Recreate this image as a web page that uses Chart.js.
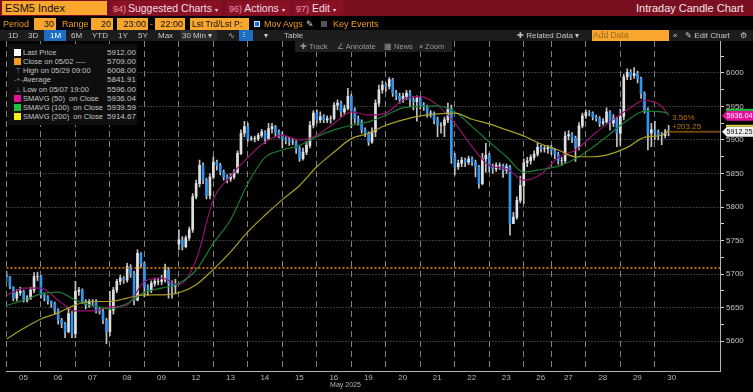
<!DOCTYPE html>
<html>
<head>
<meta charset="utf-8">
<title>ESM5 Index</title>
<script src="https://cdn.jsdelivr.net/npm/chart.js@4"></script>
<style>
  html, body { margin: 0; padding: 0; background: #000; overflow: hidden; }
  body { width: 753px; height: 392px; position: relative; font-family: "Liberation Sans", Arial, sans-serif; }
  canvas { position: absolute; left: 0; top: 0; }
  .a { position: absolute; white-space: pre; }
  .or { color: #f39c1f; font-size: 9px; line-height: 12px; top: 18px; }
  .box { background: #f9a52e; color: #111; font-size: 9px; line-height: 12px; top: 18px; height: 12px; text-align: right; padding-right: 2px; box-sizing: border-box; }
  .red { color: #f2dfe2; font-size: 10.5px; line-height: 14px; top: 1px; height: 14px; background: #8a1026; box-sizing: border-box; padding-left: 2px; }
  .red i { font-style: normal; color: #e79aa8; font-size: 9px; }
  .tb { color: #c8c8c8; font-size: 8px; line-height: 11px; top: 30px; }
  .tool { color: #9a9a9a; font-size: 7.5px; line-height: 11px; top: 41px; }
  .leg { color: #c4c4c4; font-size: 7.5px; line-height: 9px; }
</style>
</head>
<body>
<canvas id="myChart" width="753" height="392"></canvas>

<div class="a" style="left:0;top:0;width:753px;height:16px;background:#7a0f20"></div>
<div class="a" style="left:2px;top:1px;width:105px;height:14px;background:#f9a52e;color:#111;font-size:11px;line-height:14px;padding-left:3px;box-sizing:border-box">ESM5 Index</div>
<div class="a red" style="left:112px;width:110px;padding-left:1px"><i style="margin-right:-1px">94)</i> Suggested Charts <span style="font-size:6px">▾</span></div>
<div class="a red" style="left:227px;width:63px"><i>96)</i> Actions <span style="font-size:6px">▾</span></div>
<div class="a red" style="left:294px;width:49px"><i>97)</i> Edit <span style="font-size:6px">▾</span></div>
<div class="a" style="left:636px;top:1px;color:#f2e6e8;font-size:11px;line-height:14px">Intraday Candle Chart</div>

<div class="a or" style="left:3px">Period</div>
<div class="a box" style="left:34px;width:22px">30</div>
<div class="a or" style="left:62px">Range</div>
<div class="a box" style="left:91px;width:22px">20</div>
<div class="a box" style="left:117px;width:31px">23:00</div>
<div class="a or" style="left:150px">-</div>
<div class="a box" style="left:155px;width:30px">22:00</div>
<div class="a box" style="left:190px;width:59px;font-size:8.5px;text-align:left;padding-left:2px">Lst Trd/Lst P:</div>
<div class="a" style="left:254px;top:21px;width:6px;height:6px;background:#1c6fc4;border:1px solid #cfe0f5;box-sizing:border-box"></div>
<div class="a or" style="left:264px">Mov Avgs</div>
<div class="a" style="left:306px;top:18px;color:#ddd;font-size:9px;line-height:12px">✎</div>
<div class="a" style="left:321px;top:21px;width:6px;height:6px;background:#555"></div>
<div class="a or" style="left:333px">Key Events</div>

<div class="a" style="left:0;top:30px;width:753px;height:11px;background:#1c1c1c"></div>
<div class="a" style="left:44px;top:30px;width:22px;height:11px;background:#1c6fc4"></div>
<div class="a" style="left:180px;top:30px;width:37px;height:11px;background:#2c2c2c"></div>
<div class="a" style="left:239px;top:30px;width:14px;height:11px;background:#1c6fc4"></div>
<div class="a tb" style="left:8px">1D</div>
<div class="a tb" style="left:28px">3D</div>
<div class="a tb" style="left:50px;color:#fff">1M</div>
<div class="a tb" style="left:71px">6M</div>
<div class="a tb" style="left:92px">YTD</div>
<div class="a tb" style="left:118px">1Y</div>
<div class="a tb" style="left:138px">5Y</div>
<div class="a tb" style="left:158px">Max</div>
<div class="a tb" style="left:182px">30 Min ▾</div>
<div class="a tb" style="left:228px">∿</div>
<div class="a tb" style="left:243px;color:#fff">⫶</div>
<div class="a tb" style="left:264px">▾</div>
<div class="a tb" style="left:284px">Table</div>
<div class="a tb" style="left:517px">✚ Related Data ▾</div>
<div class="a" style="left:592px;top:30px;width:76px;height:11px;background:#f9a52e;color:#9a6a20;font-size:8.5px;line-height:11px;padding-left:1px">Add Data</div>
<div class="a tb" style="left:673px">«</div>
<div class="a tb" style="left:685px">✎ Edit Chart</div>
<div class="a tb" style="left:740px">⚙</div>

<div class="a" style="left:295px;top:41px;width:157px;height:11px;background:#1f1f1f"></div>
<div class="a tool" style="left:300px">✚ Track</div>
<div class="a tool" style="left:337px">∠ Annotate</div>
<div class="a tool" style="left:384px">▦ News</div>
<div class="a tool" style="left:419px">⌕ Zoom</div>

<div class="a" id="legend" style="left:8px;top:44px;width:129px;height:81px;background:#0e0e0e"></div>

<script>
const dayLabels = ['05', '06', '07', '08', '09', '12', '13', '14', '15', '16', '19', '20', '21', '22', '23', '26', '27', '28', '29', '30'];
// bar number where each session starts, 26th is the short holiday session
const dayStarts = [0, 10, 20, 30, 40, 50, 60, 70, 80, 90, 100, 110, 120, 130, 140, 150, 158, 168, 178, 188];

const closeValues = [
  5696, 5681, 5664, 5672, 5674, 5661, 5664, 5676, 5696, 5696,
  5669, 5666, 5659, 5656, 5646, 5631, 5626, 5614, 5641, 5611,
  5674, 5676, 5659, 5654, 5659, 5659, 5646, 5644, 5631, 5614,
  5646, 5676, 5689, 5694, 5691, 5711, 5701, 5661, 5731, 5716,
  5681, 5676, 5686, 5689, 5689, 5691, 5706, 5686, 5681, 5681,
  5751, 5741, 5754, 5766, 5815, 5835, 5862, 5840, 5817, 5845,
  5867, 5862, 5852, 5845, 5842, 5845, 5852, 5880, 5910, 5920,
  5902, 5902, 5902, 5907, 5912, 5902, 5917, 5920, 5912, 5907,
  5902, 5900, 5897, 5897, 5887, 5872, 5882, 5892, 5922, 5940,
  5930, 5935, 5930, 5932, 5932, 5952, 5955, 5942, 5947, 5965,
  5945, 5932, 5927, 5915, 5910, 5897, 5912, 5955, 5975, 5982,
  5980, 5990, 5970, 5965, 5960, 5965, 5970, 5960, 5957, 5962,
  5952, 5950, 5940, 5940, 5930, 5922, 5922, 5930, 5947, 5875,
  5860, 5865, 5870, 5867, 5872, 5867, 5860, 5835, 5872, 5877,
  5860, 5857, 5862, 5862, 5855, 5860, 5775, 5785, 5810, 5832,
  5866, 5869, 5874, 5879, 5889, 5887, 5887, 5889,
  5884, 5879, 5869, 5869, 5906, 5908, 5903, 5889, 5921, 5936,
  5941, 5940, 5934, 5932, 5925, 5927, 5942, 5925, 5932, 5910,
  5935, 5994, 6001, 5996, 5999, 5992, 5969, 5945, 5910, 5915,
  5912, 5907, 5907, 5912, 5912.25
];
const highValues = [
  5704, 5696, 5681, 5677, 5680, 5676, 5668, 5680, 5702, 5703,
  5698, 5672, 5668, 5660, 5658, 5648, 5634, 5628, 5648, 5644,
  5689, 5680, 5678, 5662, 5662, 5662, 5662, 5650, 5648, 5634,
  5674, 5680, 5692, 5698, 5696, 5716, 5714, 5704, 5736, 5732,
  5718, 5684, 5690, 5694, 5694, 5698, 5715, 5710, 5690, 5692,
  5766, 5756, 5757, 5770, 5820, 5840, 5870, 5866, 5843, 5850,
  5875, 5870, 5865, 5855, 5848, 5850, 5856, 5884, 5915, 5928,
  5925, 5906, 5906, 5910, 5916, 5914, 5925, 5925, 5922, 5915,
  5912, 5905, 5904, 5902, 5899, 5890, 5888, 5898, 5928, 5944,
  5945, 5942, 5938, 5936, 5936, 5956, 5960, 5958, 5952, 5977,
  5968, 5948, 5936, 5930, 5918, 5912, 5918, 5960, 5982, 5988,
  5985, 5993, 5992, 5974, 5970, 5970, 5974, 5974, 5965, 5966,
  5965, 5956, 5952, 5944, 5942, 5934, 5926, 5934, 5955, 5952,
  5880, 5870, 5874, 5873, 5876, 5875, 5870, 5862, 5880, 5895,
  5880, 5864, 5866, 5866, 5864, 5864, 5862, 5792, 5815, 5846,
  5872, 5874, 5878, 5884, 5895, 5892, 5892, 5892,
  5892, 5887, 5882, 5874, 5912, 5914, 5911, 5906, 5926, 5940,
  5945, 5944, 5942, 5937, 5935, 5932, 5948, 5944, 5938, 5934,
  5946, 5998, 6006, 6005, 6008, 6003, 5994, 5972, 5948, 5925,
  5928, 5915, 5911, 5916, 5922
];
const lowValues = [
  5690, 5678, 5660, 5660, 5668, 5658, 5658, 5662, 5672, 5690,
  5664, 5660, 5655, 5650, 5640, 5625, 5620, 5605, 5612, 5605,
  5605, 5668, 5656, 5648, 5650, 5652, 5642, 5640, 5626, 5596,
  5608, 5640, 5672, 5684, 5686, 5688, 5695, 5654, 5660, 5710,
  5666, 5668, 5672, 5682, 5684, 5684, 5688, 5664, 5664, 5672,
  5736, 5736, 5739, 5750, 5762, 5812, 5830, 5835, 5812, 5812,
  5842, 5855, 5848, 5840, 5836, 5838, 5842, 5850, 5878, 5905,
  5898, 5899, 5897, 5899, 5904, 5895, 5900, 5910, 5905, 5903,
  5888, 5894, 5892, 5893, 5880, 5868, 5870, 5878, 5888, 5918,
  5925, 5926, 5926, 5926, 5925, 5930, 5945, 5935, 5938, 5945,
  5918, 5925, 5922, 5910, 5905, 5892, 5895, 5905, 5950, 5970,
  5972, 5976, 5965, 5960, 5955, 5956, 5960, 5950, 5945, 5928,
  5946, 5944, 5934, 5934, 5924, 5905, 5910, 5905, 5926, 5865,
  5848, 5856, 5860, 5860, 5863, 5862, 5845, 5828, 5833, 5852,
  5852, 5850, 5853, 5856, 5844, 5850, 5758, 5775, 5782, 5806,
  5805, 5860, 5864, 5870, 5876, 5882, 5882, 5880,
  5878, 5872, 5864, 5862, 5866, 5900, 5896, 5868, 5885, 5918,
  5932, 5936, 5930, 5928, 5920, 5922, 5925, 5915, 5920, 5890,
  5892, 5930, 5990, 5990, 5992, 5985, 5962, 5940, 5885, 5890,
  5900, 5900, 5893, 5903, 5906
];
// the 12th opened with a gap, every other bar opens at the previous close
const gapBar = 50;
const gapOpen = 5745;

// moving averages, one reading every 5 bars plus the last bar
const sma50Values = [
  5668, 5679, 5679, 5661, 5645, 5645, 5651, 5654, 5689, 5694, 5684, 5721, 5811, 5846,
  5874, 5897, 5907, 5900, 5907, 5925, 5942, 5937, 5940, 5960, 5965, 5952, 5925, 5890,
  5862, 5857, 5840, 5849, 5874, 5885, 5907, 5927, 5945, 5959, 5950, 5936.04
];
const sma100Values = [
  5653, 5661, 5670, 5673, 5661, 5653, 5648, 5656, 5673, 5679, 5686, 5706, 5746, 5781,
  5835, 5874, 5885, 5892, 5905, 5915, 5922, 5927, 5937, 5948, 5950, 5951, 5942, 5920,
  5897, 5875, 5852, 5856, 5861, 5872, 5889, 5909, 5929, 5943, 5942, 5939.59
];
const sma200Values = [
  5603, 5619, 5633, 5642, 5654, 5659, 5659, 5664, 5669, 5669, 5672, 5684, 5707, 5733,
  5763, 5788, 5811, 5832, 5860, 5882, 5902, 5910, 5922, 5930, 5936, 5939, 5940, 5931,
  5924, 5915, 5906, 5894, 5885, 5875, 5875, 5879, 5889, 5904, 5907, 5914.67
];

const prevCloseLevel = 5709;
const lastPrice = 5912.25;
const yTicks = [5600, 5625, 5650, 5675, 5700, 5725, 5750, 5775, 5800, 5825, 5850, 5875, 5900, 5925, 5950, 5975, 6000, 6025];

const legendLabels = ['Last Price', 'Close on 05/02 ----', 'High on 05/29 09:00', 'Average', 'Low on 05/07 19:00', 'SMAVG (50)  on Close', 'SMAVG (100)  on Close', 'SMAVG (200)  on Close'];
const legendValues = ['5912.00', '5709.00', '6008.00', '5841.91', '5596.00', '5936.04', '5939.59', '5914.67'];
const legendColors = ['#ffffff', '#f39c1f', null, null, null, '#e6109c', '#1fc23a', '#f5ee1c'];
const legendGlyphs = ['', '', '⊤', '-+-', '⊥', '', '', ''];

const lastBar = closeValues.length - 1;
const toPoints = (values) => values.map((y, j) => ({ x: Math.min(j * 5, lastBar), y: y }));
const openValues = closeValues.map((c, i) => (i === gapBar ? gapOpen : i === 0 ? lowValues[0] + 10 : closeValues[i - 1]));

const legendEl = document.getElementById('legend');
legendLabels.forEach((label, i) => {
  const top = 4 + i * 9.15;
  let swatch = '';
  if (legendColors[i]) {
    swatch = `<div class="a" style="left:6px;top:${top + 1}px;width:7px;height:7px;background:${legendColors[i]}"></div>`;
  } else {
    swatch = `<div class="a leg" style="left:6px;top:${top}px;width:7px;text-align:center;color:#888;font-size:7px">${legendGlyphs[i]}</div>`;
  }
  legendEl.insertAdjacentHTML('beforeend', swatch +
    `<div class="a leg" style="left:15px;top:${top}px">${label}</div>` +
    `<div class="a leg" style="left:99px;top:${top}px;font-size:8px">${legendValues[i]}</div>`);
});

// value tags on the right axis plus the change text and the month label
const tagsPlugin = {
  id: 'tags',
  afterDraw(chart) {
    const ctx = chart.ctx;
    const yScale = chart.scales.y;
    const xScale = chart.scales.x;
    const tag = (value, fill, strip, textColor) => {
      const y = yScale.getPixelForValue(value);
      ctx.fillStyle = fill;
      ctx.beginPath();
      ctx.moveTo(722, y);
      ctx.lineTo(727, y - 5);
      ctx.lineTo(753, y - 5);
      ctx.lineTo(753, y + 5);
      ctx.lineTo(727, y + 5);
      ctx.closePath();
      ctx.fill();
      ctx.fillStyle = strip;
      ctx.fillRect(726, y - 7, 27, 2);
      ctx.fillStyle = textColor;
      ctx.font = '7.2px "Liberation Sans"';
      ctx.textAlign = 'left';
      ctx.textBaseline = 'middle';
      ctx.fillText(value.toFixed(2), 726.5, y + 0.5);
    };
    tag(sma50Values[sma50Values.length - 1], '#e6109c', '#1fc23a', '#ffffff');
    tag(lastPrice, '#f2f2f2', '#d8d050', '#111111');

    ctx.fillStyle = '#b8730f';
    ctx.font = '8px "Liberation Sans"';
    ctx.textAlign = 'left';
    ctx.textBaseline = 'middle';
    ctx.fillText('3.56%', 672, 118);
    ctx.fillText('+203.25', 672, 127);

    ctx.fillStyle = '#b5b5b5';
    ctx.font = '7px "Liberation Sans"';
    ctx.textAlign = 'center';
    ctx.fillText('May 2025', xScale.getPixelForValue(98.3), 385);
  }
};

new Chart(document.getElementById('myChart').getContext('2d'), {
  type: 'bar',
  data: {
    datasets: [
      {
        label: 'Range',
        data: closeValues.map((c, i) => ({ x: i, y: [lowValues[i], highValues[i]] })),
        backgroundColor: '#c4c4c4',
        barThickness: 1,
        grouped: false,
        order: 3
      },
      {
        label: 'Price',
        data: closeValues.map((c, i) => ({ x: i, y: [openValues[i], c] })),
        backgroundColor: closeValues.map((c, i) => (c >= openValues[i] ? '#e0e0e0' : '#2f95ee')),
        barThickness: 2,
        grouped: false,
        order: 2
      },
      {
        type: 'line',
        label: 'SMAVG (200)',
        data: toPoints(sma200Values),
        borderColor: '#a8a024',
        borderWidth: 1.2,
        cubicInterpolationMode: 'monotone',
        pointRadius: 0,
        order: 1
      },
      {
        type: 'line',
        label: 'SMAVG (100)',
        data: toPoints(sma100Values),
        borderColor: '#1c7a30',
        borderWidth: 1.2,
        cubicInterpolationMode: 'monotone',
        pointRadius: 0,
        order: 1
      },
      {
        type: 'line',
        label: 'SMAVG (50)',
        data: toPoints(sma50Values),
        borderColor: '#96106e',
        borderWidth: 1.2,
        cubicInterpolationMode: 'monotone',
        pointRadius: 0,
        order: 1
      },
      {
        type: 'line',
        label: 'Close on 05/02',
        data: [{ x: 0, y: prevCloseLevel }, { x: 206.9, y: prevCloseLevel }],
        borderColor: '#f08a10',
        borderWidth: 1.5,
        borderDash: [2, 2],
        pointRadius: 0,
        order: 0
      },
      {
        type: 'line',
        label: 'Last Price',
        data: [{ x: lastBar, y: lastPrice }, { x: 206.9, y: lastPrice }],
        borderColor: '#6e4510',
        borderWidth: 2,
        pointRadius: 0,
        order: 0
      }
    ]
  },
  options: {
    responsive: false,
    animation: false,
    events: [],
    layout: { padding: { left: 2, top: 41, right: 0, bottom: 0 } },
    plugins: { legend: { display: false }, tooltip: { enabled: false } },
    scales: {
      x: {
        type: 'linear',
        min: 0,
        max: 206.9,
        offset: false,
        afterFit: (scale) => { scale.height = 21; },
        afterBuildTicks: (scale) => { scale.ticks = dayStarts.map((v) => ({ value: v })); },
        grid: { offset: false, color: '#808080', drawTicks: false },
        border: { color: '#b5b5b5', width: 1, dash: [6, 4] },
        ticks: {
          autoSkip: false,
          maxRotation: 0,
          padding: 2,
          labelOffset: 17,
          color: '#b5b5b5',
          font: { family: 'Liberation Sans', size: 8 },
          callback: (value) => dayLabels[dayStarts.indexOf(value)]
        }
      },
      y: {
        position: 'right',
        min: 5555.3,
        max: 6047.7,
        afterFit: (scale) => { scale.width = 33; },
        afterBuildTicks: (scale) => { scale.ticks = yTicks.map((v) => ({ value: v })); },
        grid: {
          color: (c) => (c.tick && c.tick.value % 50 === 0 ? '#707070' : 'rgba(0,0,0,0)'),
          tickColor: '#d0d0d0',
          tickLength: 4
        },
        border: { color: '#b5b5b5', width: 1, dash: [1, 2] },
        ticks: {
          autoSkip: false,
          padding: 2,
          color: '#c4c4c4',
          font: { family: 'Liberation Sans', size: 8 },
          callback: (value) => (value % 50 === 0 ? String(value) : '')
        }
      }
    }
  },
  plugins: [tagsPlugin]
});
</script>
</body>
</html>
